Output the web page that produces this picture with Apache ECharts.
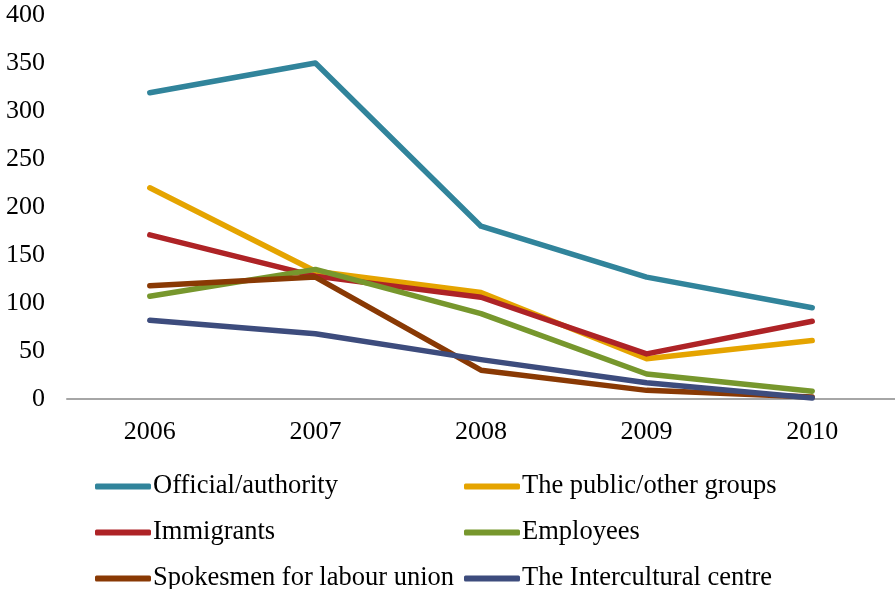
<!DOCTYPE html>
<html>
<head>
<meta charset="utf-8">
<script src="https://cdn.jsdelivr.net/npm/echarts@6/dist/echarts.min.js"></script>
<style>
  html, body { margin: 0; padding: 0; background: #ffffff; }
  #chart { width: 895px; height: 589px; }
</style>
</head>
<body>
<div id="chart"></div>
<script>
// Years on the category axis
const years = ['2006', '2007', '2008', '2009', '2010'];

// Number of statements per source and year
const officialAuthority = [319, 350, 180, 127, 95];
const publicOtherGroups = [220, 133, 111, 42, 61];
const immigrants = [171, 128, 106, 47, 81];
const employees = [107, 135, 89, 26, 8];
const labourUnion = [118, 127, 30, 9, 2];
const interculturalCentre = [82, 68, 41, 17, 1];

// Value axis ticks
const yMin = 0, yMax = 400, yStep = 50;

const font = '"Liberation Serif", "Times New Roman", serif';

const seriesDefs = [
  { name: 'Official/authority', data: officialAuthority, color: '#31849B' },
  { name: 'The public/other groups', data: publicOtherGroups, color: '#E5A400' },
  { name: 'Immigrants', data: immigrants, color: '#AE2326' },
  { name: 'Employees', data: employees, color: '#77972D' },
  { name: 'Spokesmen for labour union', data: labourUnion, color: '#893904' },
  { name: 'The Intercultural centre', data: interculturalCentre, color: '#3D4C7D' }
];

const legendBase = {
  orient: 'vertical',
  top: 473,
  height: 130,
  padding: 0,
  itemWidth: 56,
  itemHeight: 6,
  itemGap: 19,
  icon: 'roundRect',
  textStyle: { fontFamily: font, fontSize: 26.5, color: '#000', lineHeight: 26, padding: [0, 0, 0, -3] },
  selectedMode: false
};

const chart = echarts.init(document.getElementById('chart'), null, { renderer: 'canvas' });
chart.setOption({
  animation: false,
  backgroundColor: '#ffffff',
  grid: { left: 67, top: 15, width: 829, height: 384, containLabel: false },
  xAxis: {
    type: 'category',
    data: years,
    boundaryGap: true,
    axisLine: { show: true, lineStyle: { color: '#A6A6A6', width: 2 } },
    axisTick: { show: false },
    axisLabel: { fontFamily: font, fontSize: 26, color: '#000', margin: 20 }
  },
  yAxis: {
    type: 'value',
    min: yMin,
    max: yMax,
    interval: yStep,
    axisLine: { show: false },
    axisTick: { show: false },
    splitLine: { show: false },
    axisLabel: { fontFamily: font, fontSize: 26, color: '#000', margin: 22 }
  },
  legend: [
    Object.assign({}, legendBase, {
      left: 95,
      data: ['Official/authority', 'Immigrants', 'Spokesmen for labour union']
    }),
    Object.assign({}, legendBase, {
      left: 464,
      data: ['The public/other groups', 'Employees', 'The Intercultural centre']
    })
  ],
  series: seriesDefs.map((s, i) => ({
    name: s.name,
    type: 'line',
    data: s.data,
    symbol: 'none',
    smooth: false,
    z: 2 + i,
    color: s.color,
    lineStyle: { color: s.color, width: 5.5, cap: 'round', join: 'round' },
    itemStyle: { color: s.color }
  }))
});
</script>
</body>
</html>
